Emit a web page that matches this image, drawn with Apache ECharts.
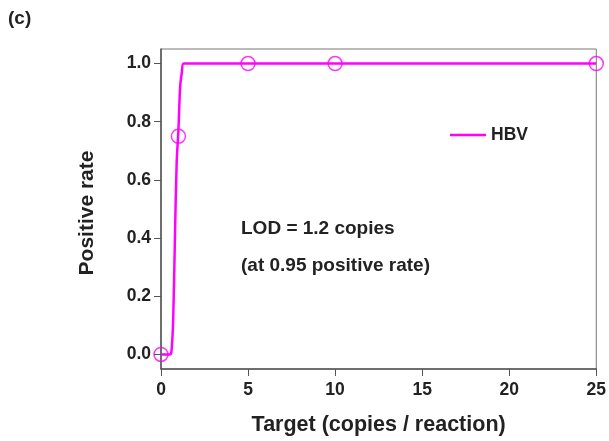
<!DOCTYPE html>
<html>
<head>
<meta charset="utf-8">
<script src="https://cdn.jsdelivr.net/npm/echarts@6/dist/echarts.min.js"></script>
<style>
  html, body { margin: 0; padding: 0; background: #fff; }
  #chart { width: 609px; height: 441px; }
</style>
</head>
<body>
<div id="chart"></div>
<script>
// Measured detection points: target copies per reaction vs positive rate
const targetCopies = [0, 1, 5, 10, 25];
const positiveRate = [0, 0.75, 1, 1, 1];

// Fitted probit curve through the measured points
const fitX = [0, 0.5, 0.6, 0.7, 0.8, 0.9, 1.0, 1.1, 1.2, 1.3, 25];
const fitY = [0, 0, 0.01, 0.12, 0.4, 0.66, 0.77, 0.92, 0.97, 1.0, 1.0];

const yTicks = [0, 0.2, 0.4, 0.6, 0.8, 1.0];
const xTicks = [0, 5, 10, 15, 20, 25];

const seriesName = 'HBV';
const lodLines = ['LOD = 1.2 copies', '(at 0.95 positive rate)'];
const panelLabel = '(c)';

const magenta = '#ff00ff';
const font = '"Liberation Sans", Arial, sans-serif';

const chart = echarts.init(document.getElementById('chart'));
chart.setOption({
  animation: false,
  backgroundColor: '#fff',
  title: {
    text: panelLabel,
    left: 8, top: 9, padding: 0,
    textStyle: { fontFamily: font, fontWeight: 'bold', fontSize: 19, color: '#222' }
  },
  grid: {
    left: 161, right: 10, top: 49, bottom: 68,
    show: true, borderColor: '#777', borderWidth: 1, backgroundColor: 'transparent'
  },
  legend: {
    data: [seriesName],
    left: 450, top: 126, padding: 0,
    icon: 'rect',
    itemWidth: 36, itemHeight: 2.5, itemGap: 5,
    textStyle: { fontFamily: font, fontWeight: 'bold', fontSize: 17.5, color: '#222' }
  },
  xAxis: {
    type: 'value',
    min: 0, max: 25, interval: 5,
    name: 'Target (copies / reaction)',
    nameLocation: 'middle', nameGap: 45,
    nameTextStyle: { fontFamily: font, fontWeight: 'bold', fontSize: 21.5, color: '#222' },
    axisLine: { show: true, onZero: false, lineStyle: { color: '#555', width: 1.5 } },
    axisTick: { show: true, length: 7, lineStyle: { color: '#555' }, customValues: xTicks },
    axisLabel: { margin: 12, fontFamily: font, fontWeight: 'bold', fontSize: 17.5, color: '#222', customValues: xTicks },
    splitLine: { show: false }
  },
  yAxis: {
    type: 'value',
    min: -0.05, max: 1.05,
    name: 'Positive rate',
    nameLocation: 'middle', nameGap: 63,
    nameTextStyle: { fontFamily: font, fontWeight: 'bold', fontSize: 21, color: '#222', padding: [0, 8, 0, 0] },
    axisLine: { show: true, onZero: false, lineStyle: { color: '#555', width: 1.5 } },
    axisTick: { show: true, length: 7, lineStyle: { color: '#555' }, customValues: yTicks },
    axisLabel: {
      margin: 10, fontFamily: font, fontWeight: 'bold', fontSize: 17.5, color: '#222',
      customValues: yTicks,
      formatter: v => v.toFixed(1)
    },
    splitLine: { show: false }
  },
  series: [
    {
      name: seriesName,
      type: 'line',
      data: fitX.map((x, i) => [x, fitY[i]]),
      smooth: 0.3,
      showSymbol: false,
      lineStyle: { color: magenta, width: 2.5 },
      itemStyle: { color: magenta },
      z: 2
    },
    {
      name: 'measured',
      type: 'scatter',
      data: targetCopies.map((x, i) => [x, positiveRate[i]]),
      symbol: 'circle',
      symbolSize: 14,
      itemStyle: { color: 'transparent', borderColor: magenta, borderWidth: 1.5 },
      z: 3
    }
  ],
  graphic: [
    {
      type: 'text', left: 241, top: 219,
      style: { text: lodLines[0], fontFamily: font, fontWeight: 'bold', fontSize: 19, fill: '#222' }
    },
    {
      type: 'text', left: 241, top: 256,
      style: { text: lodLines[1], fontFamily: font, fontWeight: 'bold', fontSize: 19, fill: '#222' }
    }
  ]
});
</script>
</body>
</html>
